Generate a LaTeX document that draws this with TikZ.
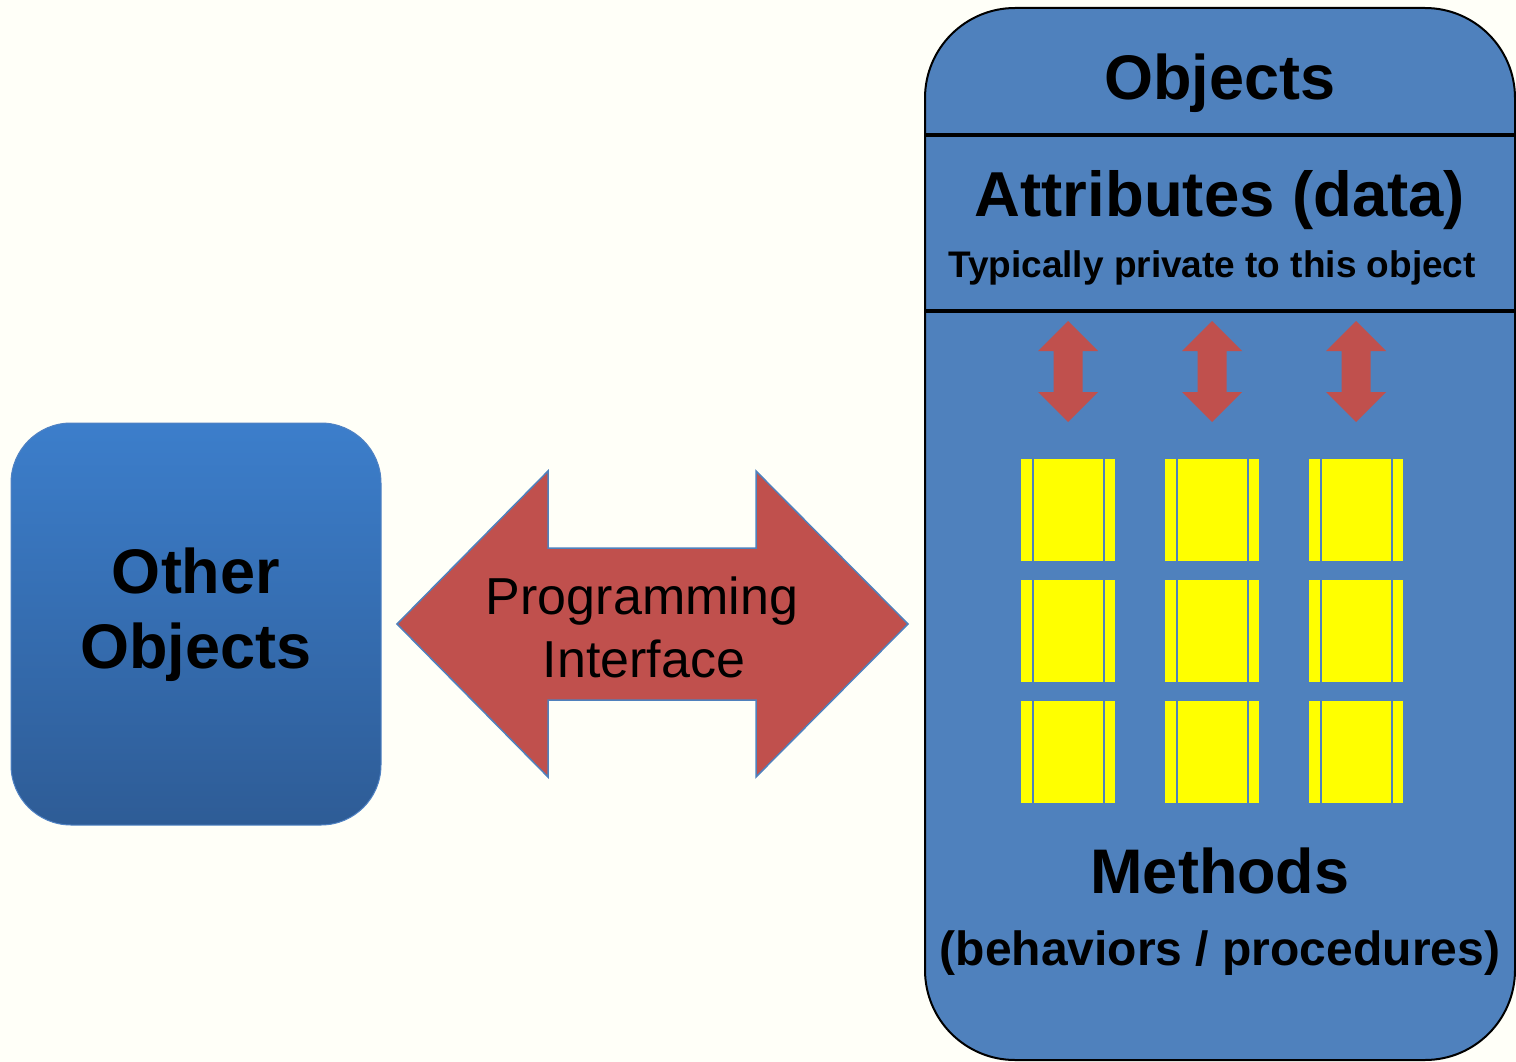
\documentclass[tikz,border=0pt]{standalone}
\usepackage{fontspec}
\setmainfont{Liberation Sans}
\definecolor{bgcream}{RGB}{255,255,248}
\definecolor{objblue}{RGB}{79,129,189}
\definecolor{arrred}{RGB}{192,80,77}
\definecolor{gradtop}{RGB}{60,126,203}
\definecolor{gradbot}{RGB}{46,92,150}
\definecolor{boxedge}{RGB}{80,130,195}
\definecolor{methyellow}{RGB}{255,255,0}
\begin{document}
\begin{tikzpicture}[x=1pt,y=-1pt,
  txt/.style={anchor=base, inner sep=0pt, text=black},
  bigtxt/.style={txt, font=\fontsize{63}{75}\selectfont\bfseries},
  redshape/.style={fill=arrred},
  methodbox/.style={fill=methyellow},
  methodgap/.style={draw=objblue, line width=2pt}]
\fill[bgcream] (0,0) rectangle (1516,1062);
\useasboundingbox (0,0) rectangle (1516,1062);

% left box
\path[top color=gradtop, bottom color=gradbot, draw=boxedge, line width=1pt, rounded corners=60pt]
  (11,423) rectangle (381,825);
\node[bigtxt] (other) at (196,593) {Other};
\node[bigtxt] (otherobj) at (196,668) {Objects};

% big double arrow
\draw[redshape, draw=objblue, line width=1.5pt]
  (397,624) -- (548,471) -- (548,548) -- (756,548) -- (756,471) -- (908,624)
  -- (756,777) -- (756,700) -- (548,700) -- (548,777) -- cycle;
\node[txt, font=\fontsize{52}{60}\selectfont] (prog) at (642,614) {Programming};
\node[txt, font=\fontsize{52}{60}\selectfont] (iface) at (644,677) {Interface};

% right box
\draw[fill=objblue, line width=2pt, rounded corners=90pt] (925,8) rectangle (1515,1060);
\coordinate (s1l) at (925,135); \coordinate (s1r) at (1515,135);
\coordinate (s2l) at (925,311); \coordinate (s2r) at (1515,311);
\draw[line width=4pt] (s1l) -- (s1r);
\draw[line width=4pt] (s2l) -- (s2r);

\node[bigtxt] (objects) at (1220,100) {Objects};
\node[bigtxt, font=\fontsize{63.5}{75}\selectfont\bfseries] (attr) at (1220,216) {Attributes (data)};
\node[txt, font=\fontsize{37}{44}\selectfont\bfseries] (priv) at (1212,277) {Typically private to this object};

% small double arrows
\foreach \cx in {1068,1212,1356}{
  \fill[arrred] (\cx,321) -- ++(30,30) -- ++(-15.5,0) -- ++(0,41) -- ++(15.5,0)
    -- (\cx,422) -- ++(-30,-30) -- ++(15.5,0) -- ++(0,-41) -- ++(-15.5,0) -- cycle;
}

% method blocks
\foreach \cx in {1068,1212,1356}{
  \foreach \ty in {459,580,701}{
    \fill[methodbox] (\cx-47,\ty) rectangle (\cx+47,\ty+102);
    \draw[methodgap] (\cx-35.5,\ty) -- (\cx-35.5,\ty+102);
    \draw[methodgap] (\cx+35.5,\ty) -- (\cx+35.5,\ty+102);
  }
}

\node[bigtxt] (methods) at (1220,893) {Methods};
\node[txt, font=\fontsize{48}{56}\selectfont\bfseries] (behav) at (1220,965) {(behaviors / procedures)};
\end{tikzpicture}
\end{document}
